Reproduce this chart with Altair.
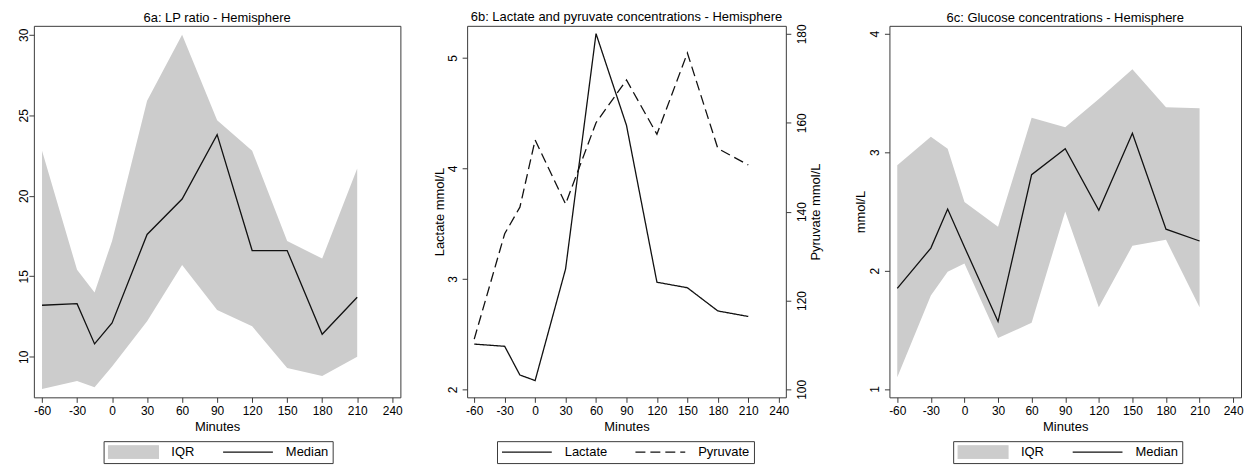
import altair as alt
import pandas as pd

# ---------------- data ----------------
minutes = [-60, -30, -15, 0, 30, 60, 90, 120, 150, 180, 210]

lp_median = [13.2, 13.3, 10.8, 12.1, 17.6, 19.8, 23.8, 16.6, 16.6, 11.4, 13.7]
lp_q3 = [22.8, 15.4, 14.0, 17.2, 25.9, 30.0, 24.7, 22.8, 17.2, 16.1, 21.7]
lp_q1 = [8.0, 8.5, 8.1, 9.4, 12.2, 15.7, 12.9, 11.9, 9.3, 8.8, 10.0]

lactate = [2.41, 2.39, 2.13, 2.08, 3.09, 5.22, 4.39, 2.97, 2.92, 2.71, 2.66]
pyruvate = [111.3, 135.0, 141.0, 156.1, 141.7, 160.0, 169.6, 157.4, 175.7, 154.2, 150.5]

glu_median = [1.85, 2.19, 2.52, 2.20, 1.57, 2.81, 3.03, 2.51, 3.16, 2.35, 2.25]
glu_q3 = [2.89, 3.13, 3.03, 2.58, 2.37, 3.29, 3.21, 3.45, 3.70, 3.38, 3.37]
glu_q1 = [1.10, 1.79, 1.99, 2.06, 1.43, 1.56, 2.50, 1.69, 2.21, 2.26, 1.69]

x_ticks = [-60, -30, 0, 30, 60, 90, 120, 150, 180, 210, 240]
lp_ticks = [10, 15, 20, 25, 30]
lactate_ticks = [2, 3, 4, 5]
pyruvate_ticks = [100, 120, 140, 160, 180]
glu_ticks = [1, 2, 3, 4]

iqr_keys = ["IQR", "Median"]
lp_keys = ["Lactate", "Pyruvate"]

titles = [
    "6a: LP ratio - Hemisphere",
    "6b: Lactate and pyruvate concentrations - Hemisphere",
    "6c: Glucose concentrations - Hemisphere",
]

# ---------------- styles ----------------
FONT = "Liberation Sans"
INK = "#111111"
FRAME = "#3a3a3a"
GRAY = "#cccccc"
X_DOMAIN = [-67, 247]
PLOT_H = 373
RECT = "M-1,-0.27H1V0.27H-1Z"
HLINE = "M-1,0H1"


def x_enc():
    return alt.X(
        "minutes:Q",
        scale=alt.Scale(domain=X_DOMAIN, nice=False, zero=False),
        axis=alt.Axis(values=x_ticks, title="Minutes",
                      labelExpr="'' + datum.value",
                      labelFlush=False, labelOverlap=False,
                      labelPadding=3, titlePadding=4),
    )


def y_axis(values, title, orient, label_pad, title_x):
    opts = dict(values=values, orient=orient, format="d", labelAngle=270,
                labelAlign="center",
                labelBaseline="alphabetic" if orient == "left" else "top",
                labelPadding=label_pad, labelOverlap=False, labelFlush=False)
    if title:
        opts.update(title=title, titleAngle=270, titleAlign="center",
                    titleBaseline="alphabetic", titleX=title_x)
    else:
        opts.update(title=None)
    return alt.Axis(**opts)


def legend(x, y, **extra):
    return alt.Legend(title=None, orient="none", legendX=x, legendY=y,
                      direction="horizontal", columns=2, strokeColor=FRAME,
                      padding=4, labelFont=FONT, labelFontSize=13,
                      labelColor="black", labelOffset=12, columnPadding=27,
                      clipHeight=14, symbolSize=2500, symbolOpacity=1, **extra)


def title_params(t):
    return alt.TitleParams(text=t, font=FONT, fontSize=13, fontWeight="normal",
                           color="black", anchor="middle", offset=0)


def iqr_panel(title, med, lo, hi, y_domain, y_ticks, y_title, width,
              label_pad, title_x, legend_x):
    df = pd.DataFrame({"minutes": minutes, "median": med, "q1": lo, "q3": hi})
    ysc = alt.Scale(domain=y_domain, nice=False, zero=False)
    yax = y_axis(y_ticks, y_title, "left", label_pad, title_x)
    area = alt.Chart(df).mark_area(color=GRAY, opacity=1).encode(
        x=x_enc(), y=alt.Y("q3:Q", scale=ysc, axis=yax), y2=alt.Y2("q1:Q"))
    line = alt.Chart(df).mark_line(color=INK, strokeWidth=1.3).encode(
        x=x_enc(), y=alt.Y("median:Q", scale=ysc, axis=yax))
    leg = legend(legend_x, 417, symbolStrokeWidth=1.3)
    key = alt.Chart(pd.DataFrame({"series": iqr_keys})).mark_point(opacity=0).encode(
        x=alt.value(0), y=alt.value(0),
        shape=alt.Shape("series:N", scale=alt.Scale(domain=iqr_keys, range=[RECT, HLINE]), legend=leg),
        fill=alt.Fill("series:N", scale=alt.Scale(domain=iqr_keys, range=[GRAY, "transparent"]), legend=leg),
        stroke=alt.Stroke("series:N", scale=alt.Scale(domain=iqr_keys, range=[GRAY, INK]), legend=leg),
    )
    return alt.layer(area, line, key).properties(
        width=width, height=PLOT_H, title=title_params(title))


def lp_panel():
    lac_df = pd.DataFrame({"minutes": minutes, "value": lactate, "series": lp_keys[0]})
    pyr_df = pd.DataFrame({"minutes": minutes, "value": pyruvate, "series": lp_keys[1]})
    dash = alt.Scale(domain=lp_keys, range=[[1, 0], [10, 5]])
    leg = legend(30, 417, symbolType="stroke", symbolStrokeColor=INK, symbolStrokeWidth=1.3)
    lac = alt.Chart(lac_df).mark_line(color=INK, strokeWidth=1.3).encode(
        x=x_enc(),
        y=alt.Y("value:Q", scale=alt.Scale(domain=[1.928, 5.291], nice=False, zero=False),
                axis=y_axis(lactate_ticks, "Lactate mmol/L", "left", 6, -23.3)),
        strokeDash=alt.StrokeDash("series:N", scale=dash, legend=leg),
    )
    pyr = alt.Chart(pyr_df).mark_line(color=INK, strokeWidth=1.3).encode(
        x=x_enc(),
        y=alt.Y("value:Q", scale=alt.Scale(domain=[98.2, 181.8], nice=False, zero=False),
                axis=y_axis(pyruvate_ticks, "Pyruvate mmol/L", "right", 6, 34)),
        strokeDash=alt.StrokeDash("series:N", scale=dash, legend=leg),
    )
    return alt.layer(lac, pyr).resolve_scale(y="independent").properties(
        width=320, height=PLOT_H, title=title_params(titles[1]))


pa = iqr_panel(titles[0], lp_median, lp_q1, lp_q3, [7.48, 30.56], lp_ticks,
               None, 368, 1, None, 70)
pb = lp_panel()
pc = iqr_panel(titles[2], glu_median, glu_q1, glu_q3, [0.93, 4.067], glu_ticks,
               "mmol/L", 353, 6, -24.7, 64)

chart = (
    alt.hconcat(pa, pb, pc, spacing=30)
    .resolve_scale(shape="independent", fill="independent",
                   stroke="independent", strokeDash="independent")
    .resolve_legend(shape="independent", fill="independent",
                    stroke="independent", strokeDash="independent")
    .properties(padding={"left": 17, "top": 9, "right": 0, "bottom": 0},
                background="white")
    .configure_view(stroke=FRAME, strokeWidth=1)
    .configure_axis(domain=False, grid=False, tickColor=FRAME, tickSize=5,
                    tickWidth=1, labelFont=FONT, labelFontSize=12,
                    labelColor="black", titleFont=FONT, titleFontSize=13,
                    titleFontWeight="normal", titleColor="black")
)

chart.save("out.html", embed_options={"renderer": "svg", "actions": False})
